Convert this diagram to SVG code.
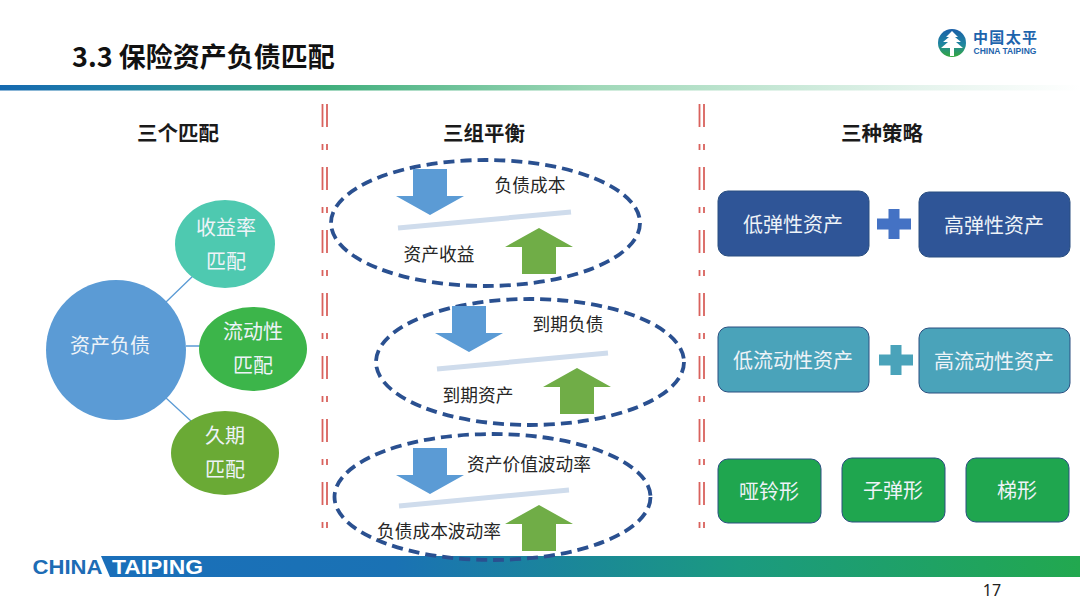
<svg xmlns="http://www.w3.org/2000/svg" width="1080" height="608" viewBox="0 0 1080 608">
<defs>
<linearGradient id="topbar" x1="0" x2="1" y1="0" y2="0"><stop offset="0" stop-color="#1569b0"/><stop offset="0.1" stop-color="#1f7fa8"/><stop offset="0.3" stop-color="#3fae7c"/><stop offset="0.55" stop-color="#9fd8b8"/><stop offset="0.85" stop-color="#e4f3ec"/><stop offset="1" stop-color="#ffffff"/></linearGradient>
<linearGradient id="botbar" x1="0" x2="1" y1="0" y2="0"><stop offset="0" stop-color="#1a6fba"/><stop offset="0.3" stop-color="#1a72b4"/><stop offset="0.65" stop-color="#1b9a80"/><stop offset="1" stop-color="#22a84f"/></linearGradient>
<linearGradient id="logo" x1="0" x2="0" y1="0" y2="1"><stop offset="0" stop-color="#1a5fa8"/><stop offset="0.55" stop-color="#1f86a0"/><stop offset="1" stop-color="#35a83c"/></linearGradient>
<path id="down" d="M-17 0H17V27H34L0 46L-34 27H-17Z" fill="#5b9bd5"/>
<path id="up" d="M-17 46H17V19H34L0 0L-34 19H-17Z" fill="#70ad47"/>
<path id="plus" d="M-17 -5.500H-5.500V-15H5.500V-5.500H17V5.500H5.500V15H-5.500V5.500H-17Z"/>
</defs>
<style>
text{font-family:"Noto Sans CJK SC","Liberation Sans",sans-serif;text-anchor:middle}
.h{font-size:20.500px;font-weight:700;fill:#1a1a1a}
.w{font-size:20px;fill:#eef3f8}
.k{font-size:17.700px;fill:#262626}
.ell{fill:none;stroke:#2a5090;stroke-width:3.800;stroke-dasharray:11 6}
.beam{stroke:#cfdcec;stroke-width:5;fill:none}
.box{stroke:#2a4f80;stroke-width:1}
.div{stroke:#d9625d;stroke-width:1.800;fill:none}
.ln{stroke:#5b9bd5;stroke-width:1.300;fill:none}
</style>
<rect width="1080" height="608" fill="#fff"/>
<rect x="0" y="85" width="1080" height="5.500" fill="url(#topbar)"/>
<text x="203.500" y="67" style="font-size:27px;font-weight:700;fill:#111">3.3 保险资产负债匹配</text>
<g id="logo-mark">
<circle cx="952" cy="43" r="14" fill="url(#logo)"/>
<path d="M952 31L958 37H955L961 42H956L963 48H954V56H950V48H941L948 42H943L949 37H946Z" fill="#fff"/>
<text x="1005" y="43" style="font-size:15px;font-weight:700;fill:#1d64ad" textLength="64" lengthAdjust="spacing">中国太平</text>
<text x="1005" y="54" style="font-size:8.500px;font-weight:700;fill:#1d64ad;font-family:'Liberation Sans',sans-serif">CHINA TAIPING</text>
</g>
<g id="footer">
<path d="M101 556H1080V577H110Z" fill="url(#botbar)"/>
<text x="67.500" y="574" style="font-size:21px;font-weight:700;fill:#1d6cb5;font-family:'Liberation Sans',sans-serif" textLength="70" lengthAdjust="spacingAndGlyphs">CHINA</text>
<text x="157.500" y="574" style="font-size:21px;font-weight:700;fill:#fff;font-family:'Liberation Sans',sans-serif" textLength="91" lengthAdjust="spacingAndGlyphs">TAIPING</text>
<text x="992" y="596" style="font-size:16px;fill:#222;font-family:'Noto Sans',sans-serif">17</text>
</g>
<g id="dividers">
<path class="div" stroke-dasharray="23 40" d="M322.500 104V530M327 104V530"/>
<path class="div" stroke-dasharray="6 57" stroke-dashoffset="-40" d="M322.500 104V530M327 104V530"/>
<path class="div" stroke-dasharray="23 40" d="M699.500 104V530M704 104V530"/>
<path class="div" stroke-dasharray="6 57" stroke-dashoffset="-40" d="M699.500 104V530M704 104V530"/>
</g>
<text class="h" x="178" y="141">三个匹配</text>
<text class="h" x="484" y="141">三组平衡</text>
<text class="h" x="882" y="141">三种策略</text>
<g id="connectors">
<path class="ln" d="M166 302L194 275M186 346H200M166 398L191 421"/>
</g>
<g id="n-assets"><circle cx="116" cy="350" r="70" fill="#5b9bd5"/><text class="w" x="110" y="353">资产负债</text></g>
<g id="n-yield"><ellipse cx="225" cy="244" rx="50" ry="44" fill="#4ec9b0"/><text class="w" x="226" y="235">收益率</text><text class="w" x="226" y="269">匹配</text></g>
<g id="n-liq"><ellipse cx="253" cy="349" rx="54" ry="42" fill="#3cb54a"/><text class="w" x="253" y="339">流动性</text><text class="w" x="253" y="373">匹配</text></g>
<g id="n-dur"><ellipse cx="225" cy="453" rx="54" ry="42" fill="#6aaa35"/><text class="w" x="225" y="443">久期</text><text class="w" x="225" y="477">匹配</text></g>
<g id="bal-1">
<ellipse class="ell" cx="485.500" cy="223" rx="154.500" ry="63"/>
<use href="#down" x="430" y="169"/><path class="beam" d="M398 228L571 212"/><use href="#up" x="539" y="228"/>
<text class="k" x="530" y="192">负债成本</text><text class="k" x="439" y="261">资产收益</text>
</g>
<g id="bal-2">
<ellipse class="ell" cx="530" cy="362" rx="154" ry="63"/>
<use href="#down" x="469" y="306"/><path class="beam" d="M437 369L608 353"/><use href="#up" x="577" y="368"/>
<text class="k" x="568" y="331">到期负债</text><text class="k" x="478" y="402">到期资产</text>
</g>
<g id="bal-3">
<ellipse class="ell" cx="492.500" cy="497" rx="158" ry="63"/>
<use href="#down" x="430" y="448"/><path class="beam" d="M399 506L569 490"/><use href="#up" x="539" y="505"/>
<text class="k" x="529" y="471">资产价值波动率</text><text class="k" x="439" y="538">负债成本波动率</text>
</g>
<g id="s-low-el"><rect class="box" x="718" y="191" width="151" height="65" rx="10" fill="#2f5597"/><text class="w" x="793" y="232">低弹性资产</text></g>
<use href="#plus" x="894" y="224" fill="#4472c4"/>
<g id="s-high-el"><rect class="box" x="919" y="192" width="151" height="65" rx="10" fill="#2f5597"/><text class="w" x="994" y="233">高弹性资产</text></g>
<g id="s-low-liq"><rect class="box" x="718" y="327" width="151" height="65" rx="10" fill="#4aa3ba"/><text class="w" x="793" y="368">低流动性资产</text></g>
<use href="#plus" x="896" y="360" fill="#4aa3ba"/>
<g id="s-high-liq"><rect class="box" x="919" y="328" width="151" height="65" rx="10" fill="#4aa3ba"/><text class="w" x="994" y="369">高流动性资产</text></g>
<g id="s-bar"><rect class="box" x="718" y="459" width="103" height="64" rx="10" fill="#1fa64f"/><text class="w" x="769" y="499">哑铃形</text></g>
<g id="s-bul"><rect class="box" x="842" y="458" width="103" height="64" rx="10" fill="#1fa64f"/><text class="w" x="893" y="498">子弹形</text></g>
<g id="s-lad"><rect class="box" x="966" y="458" width="103" height="64" rx="10" fill="#1fa64f"/><text class="w" x="1017" y="498">梯形</text></g>
</svg>
